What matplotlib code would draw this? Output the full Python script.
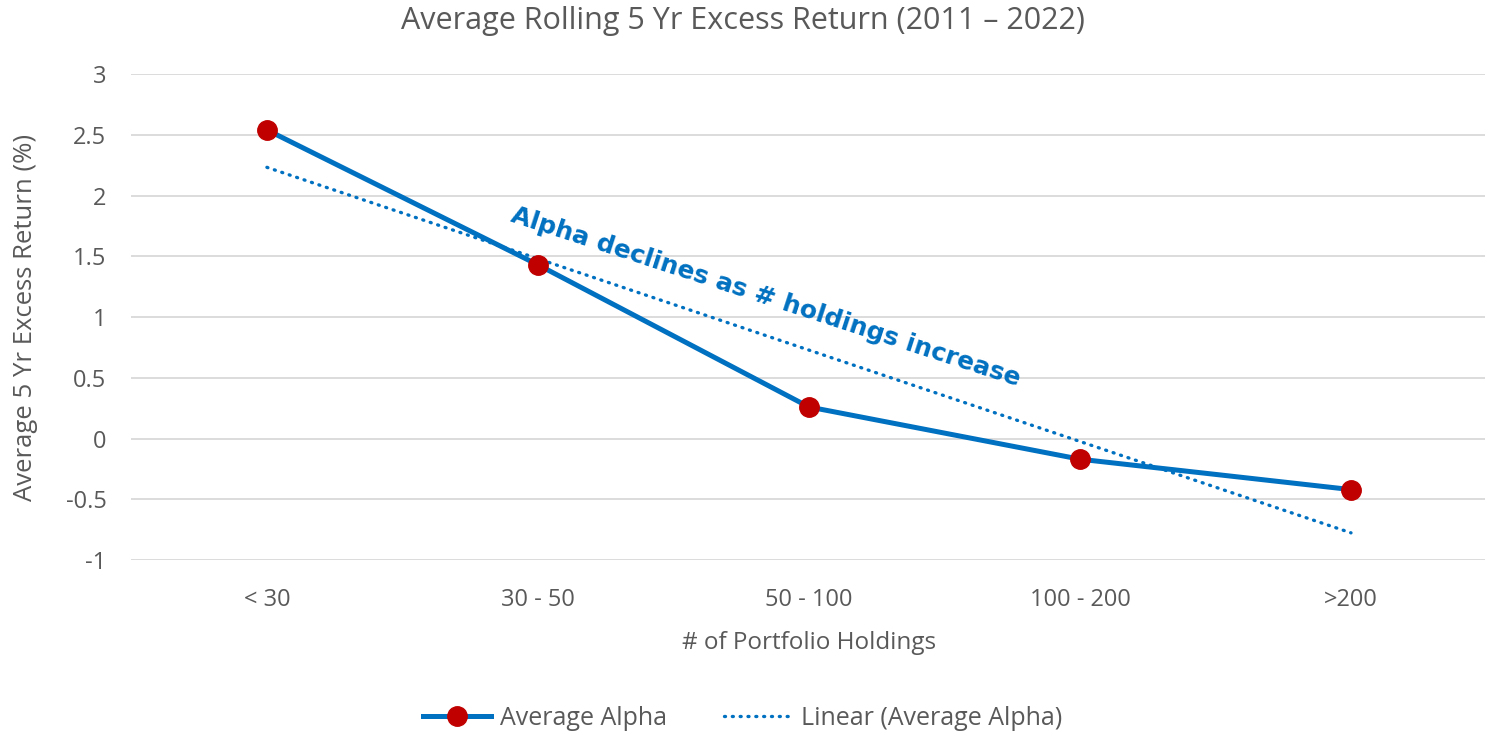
import numpy as np
import matplotlib
matplotlib.use("Agg")
import matplotlib.pyplot as plt

categories = ["< 30", "30 - 50", "50 - 100", "100 - 200", ">200"]
avg_alpha = [2.54, 1.43, 0.26, -0.17, -0.42]
yticks = [3, 2.5, 2, 1.5, 1, 0.5, 0, -0.5, -1]
ytick_labels = ["3", "2.5", "2", "1.5", "1", "0.5", "0", "-0.5", "-1"]

plt.rcParams['font.family'] = ['Open Sans', 'DejaVu Sans']
GRAY = "#595959"
BLUE = "#0070C0"
RED = "#C00000"

fig = plt.figure(figsize=(14.85, 7.35), dpi=100)
ax = fig.add_axes([0.0885, 0.238, 0.9125, 0.6613])

x = np.arange(len(categories))
ax.plot(x, avg_alpha, color=BLUE, lw=3.6, marker="o", markersize=14,
        markerfacecolor=RED, markeredgecolor=RED, label="Average Alpha", zorder=3)

coef = np.polyfit(x, avg_alpha, 1)
trend = np.polyval(coef, x)
ax.plot(x, trend, color=BLUE, lw=2.4, linestyle=(0, (0.3, 2.05)),
        dash_capstyle="round", label="Linear (Average Alpha)", zorder=2)

ax.set_xlim(-0.5, 4.5)
ax.set_ylim(-1, 3)
ax.set_yticks(yticks)
ax.set_yticklabels(ytick_labels)
ax.set_xticks(x)
ax.set_xticklabels(categories)
ax.grid(axis="y", color="#D9D9D9", lw=1.3)
ax.set_axisbelow(True)
for s in ax.spines.values():
    s.set_visible(False)
ax.tick_params(axis="both", length=0, labelsize=17, colors=GRAY)
ax.tick_params(axis="y", pad=18)
ax.tick_params(axis="x", pad=20)

ax.set_xlabel("# of Portfolio Holdings", fontsize=17.5, color=GRAY, labelpad=14)
ax.set_ylabel("Average 5 Yr Excess Return (%)", fontsize=18.5, color=GRAY, labelpad=20)
fig.text(0.5, 0.972, "Average Rolling 5 Yr Excess Return (2011 \u2013 2022)",
         ha="center", va="center", fontsize=22, color=GRAY)

ax.text(1.84, 1.16, "Alpha declines as # holdings increase", rotation=-18,
        rotation_mode="anchor", ha="center", va="center", fontsize=18,
        color=BLUE, fontweight="bold", family=["DejaVu Sans"])

leg = fig.legend(loc="center", bbox_to_anchor=(0.5, 0.023), ncol=2, frameon=False,
                 fontsize=18, labelcolor=GRAY, handlelength=2.75, columnspacing=2.3,
                 handletextpad=0.33)

fig.savefig("out.png", dpi=100)
